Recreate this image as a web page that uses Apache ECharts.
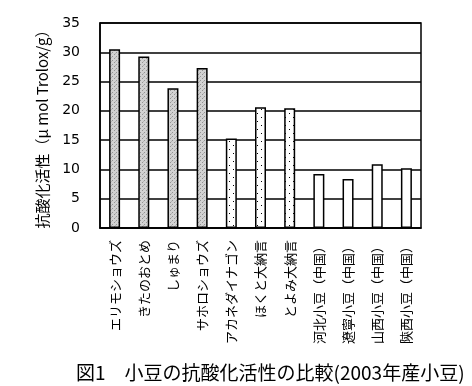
<!DOCTYPE html>
<html><head><meta charset="utf-8">
<script src="https://cdn.jsdelivr.net/npm/echarts@6/dist/echarts.min.js"></script>
<style>html,body{margin:0;padding:0;background:#fff}#c{width:472px;height:386px}</style>
</head><body><div id="c"></div>
<script>
const categories = ['エリモショウズ','きたのおとめ','しゅまり','サホロショウズ','アカネダイナゴン','ほくと大納言','とよみ大納言','河北小豆（中国）','遼寧小豆（中国）','山西小豆（中国）','陝西小豆（中国）'];
const values = [30.5, 29.3, 23.85, 27.3, 15.3, 20.6, 20.45, 9.2, 8.35, 10.9, 10.2];
const groups = ['gray','gray','gray','gray','dot','dot','dot','white','white','white','white'];
const yTicks = [0,5,10,15,20,25,30,35];
const yName = '抗酸化活性（μ mol Trolox/g）';
const title = '図1　小豆の抗酸化活性の比較(2003年産小豆)';

function grayPattern(){
  const c=document.createElement('canvas');c.width=4;c.height=4;
  const g=c.getContext('2d');g.fillStyle='#d2d2d2';g.fillRect(0,0,4,4);
  g.fillStyle='#949494';g.fillRect(0,0,1,1);g.fillRect(2,2,1,1);
  g.fillStyle='#b4b4b4';g.fillRect(3,1,1,1);
  return c;
}
function dotPattern(){
  const c=document.createElement('canvas');c.width=8;c.height=8;
  const g=c.getContext('2d');g.fillStyle='#ffffff';g.fillRect(0,0,8,8);
  g.fillStyle='#000';g.fillRect(1,1,1,1);g.fillRect(5,5,1,1);
  return c;
}
const fills={gray:{image:grayPattern(),repeat:'repeat'},dot:{image:dotPattern(),repeat:'repeat'},white:'#ffffff'};
const FONT='"Noto Sans CJK JP"';
const chart=echarts.init(document.getElementById('c'),null,{renderer:'canvas'});
chart.setOption({
  animation:false,
  title:{text:title,left:71,top:358,textStyle:{fontFamily:FONT,fontSize:19,fontWeight:'normal',color:'#000'}},
  grid:{left:100,right:51,top:23,bottom:158,show:true,borderColor:'#000',borderWidth:1.5,containLabel:false},
  xAxis:{type:'category',data:categories,
    axisLine:{lineStyle:{color:'#000',width:1.5}},
    axisTick:{inside:true,length:4,lineStyle:{color:'#000',width:1.5}},
    axisLabel:{rotate:90,interval:0,margin:12,fontFamily:FONT,fontSize:13,color:'#000'}},
  yAxis:{type:'value',min:yTicks[0],max:yTicks[yTicks.length-1],interval:5,
    name:yName,nameLocation:'middle',nameGap:50,nameRotate:90,
    nameTextStyle:{fontFamily:FONT,fontSize:15,color:'#000'},
    axisLine:{show:true,lineStyle:{color:'#000',width:1.5}},axisTick:{show:false},
    axisLabel:{margin:20,fontFamily:'"DejaVu Sans"',fontSize:14,color:'#000'},
    splitLine:{lineStyle:{color:'#000',width:1.5}}},
  series:[{type:'bar',barWidth:11,
    data:values.map((v,i)=>({value:v,itemStyle:{color:fills[groups[i]]}})),
    itemStyle:{borderColor:'#000',borderWidth:1.5}}]
});
</script></body></html>
